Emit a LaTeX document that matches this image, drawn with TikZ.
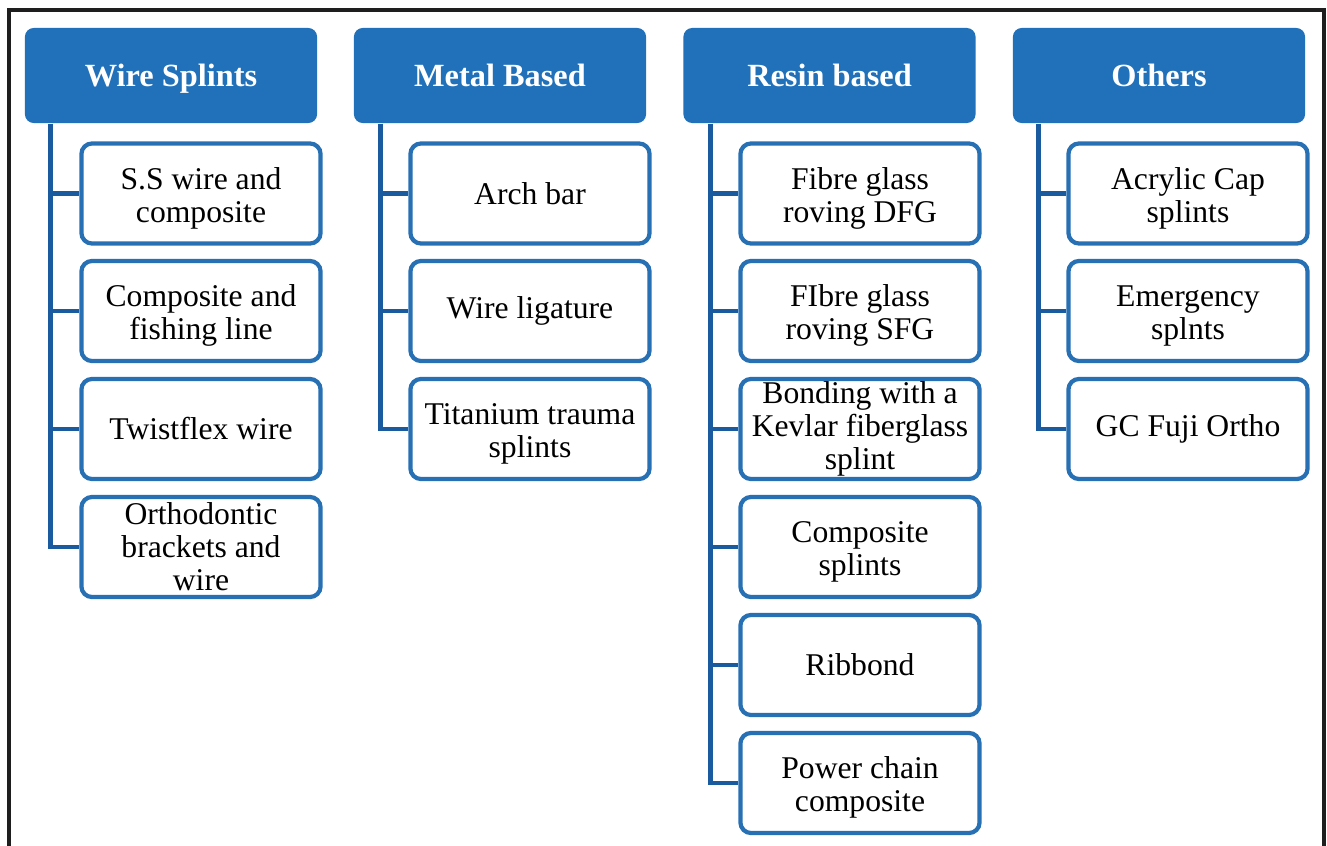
\documentclass[tikz,border=0pt]{standalone}
\usepackage{fontspec}
\setmainfont{Liberation Serif}
\definecolor{hdrblue}{RGB}{32,112,186}
\definecolor{boxblue}{RGB}{40,112,180}
\definecolor{trunkblue}{RGB}{26,90,158}
\definecolor{framegray}{RGB}{30,30,30}
\newcommand{\toprow}{\rule{0pt}{8.8pt}}
\begin{document}
\begin{tikzpicture}[x=0.01cm,y=-0.01cm,
    header/.style={rectangle, rounded corners=2.5pt, fill=hdrblue, text=white,
        minimum width=2.92cm, minimum height=0.95cm, inner sep=0pt,
        text height=1.6ex, text depth=0.2ex,
        font=\fontsize{9.2}{10}\selectfont\bfseries},
    splint/.style={rectangle, rounded corners=3pt, draw=boxblue, line width=1.2pt, fill=white,
        minimum width=2.39cm, minimum height=1.00cm, inner sep=0pt, align=center,
        font=\fontsize{9}{9.4}\selectfont},
    trunk/.style={draw=trunkblue, line width=1.4pt}]

    \useasboundingbox (0,0) rectangle (1327,846);
    \draw[framegray, line width=1.2pt] (9,860) -- (9,10) -- (1324,10) -- (1324,860);

    % headers
    \node[header] (wire)  at (171,75.5) {Wire Splints};
    \node[header] (metal) at (500,75.5) {Metal Based};
    \node[header] (resin) at (829.5,75.5) {Resin based};
    \node[header] (other) at (1159,75.5) {Others};

    % wire splints
    \node[splint] (w1) at (201,193.5) {\toprow S.S wire and\\composite};
    \node[splint] (w2) at (201,311) {\toprow Composite and\\fishing line};
    \node[splint] (w3) at (201,429) {Twistflex wire};
    \node[splint] (w4) at (201,547) {Orthodontic\\brackets and\\wire};

    % metal based
    \node[splint] (m1) at (530,193.5) {Arch bar};
    \node[splint] (m2) at (530,311) {Wire ligature};
    \node[splint] (m3) at (530,429) {\toprow Titanium trauma\\splints};

    % resin based
    \node[splint] (r1) at (860,193.5) {\toprow Fibre glass\\roving DFG};
    \node[splint] (r2) at (860,311) {\toprow FIbre glass\\roving SFG};
    \node[splint] (r3) at (860,429) {Bonding with a\\Kevlar fiberglass\\splint};
    \node[splint] (r4) at (860,547) {\toprow Composite\\splints};
    \node[splint] (r5) at (860,665) {Ribbond};
    \node[splint] (r6) at (860,783) {\toprow Power chain\\composite};

    % others
    \node[splint] (o1) at (1188,193.5) {\toprow Acrylic Cap\\splints};
    \node[splint] (o2) at (1188,311) {\toprow Emergency\\splnts};
    \node[splint] (o3) at (1188,429) {GC Fuji Ortho};

    % trunks
    \coordinate (wt) at ([xshift=0.26cm]wire.south west);
    \coordinate (mt) at ([xshift=0.27cm]metal.south west);
    \coordinate (rt) at ([xshift=0.28cm]resin.south west);
    \coordinate (ot) at ([xshift=0.26cm]other.south west);

    \draw[trunk] (wt) |- (w4.west);
    \draw[trunk] (w1.west -| wt) -- (w1.west);
    \draw[trunk] (w2.west -| wt) -- (w2.west);
    \draw[trunk] (w3.west -| wt) -- (w3.west);

    \draw[trunk] (mt) |- (m3.west);
    \draw[trunk] (m1.west -| mt) -- (m1.west);
    \draw[trunk] (m2.west -| mt) -- (m2.west);

    \draw[trunk] (rt) |- (r6.west);
    \draw[trunk] (r1.west -| rt) -- (r1.west);
    \draw[trunk] (r2.west -| rt) -- (r2.west);
    \draw[trunk] (r3.west -| rt) -- (r3.west);
    \draw[trunk] (r4.west -| rt) -- (r4.west);
    \draw[trunk] (r5.west -| rt) -- (r5.west);

    \draw[trunk] (ot) |- (o3.west);
    \draw[trunk] (o1.west -| ot) -- (o1.west);
    \draw[trunk] (o2.west -| ot) -- (o2.west);

\end{tikzpicture}
\end{document}
